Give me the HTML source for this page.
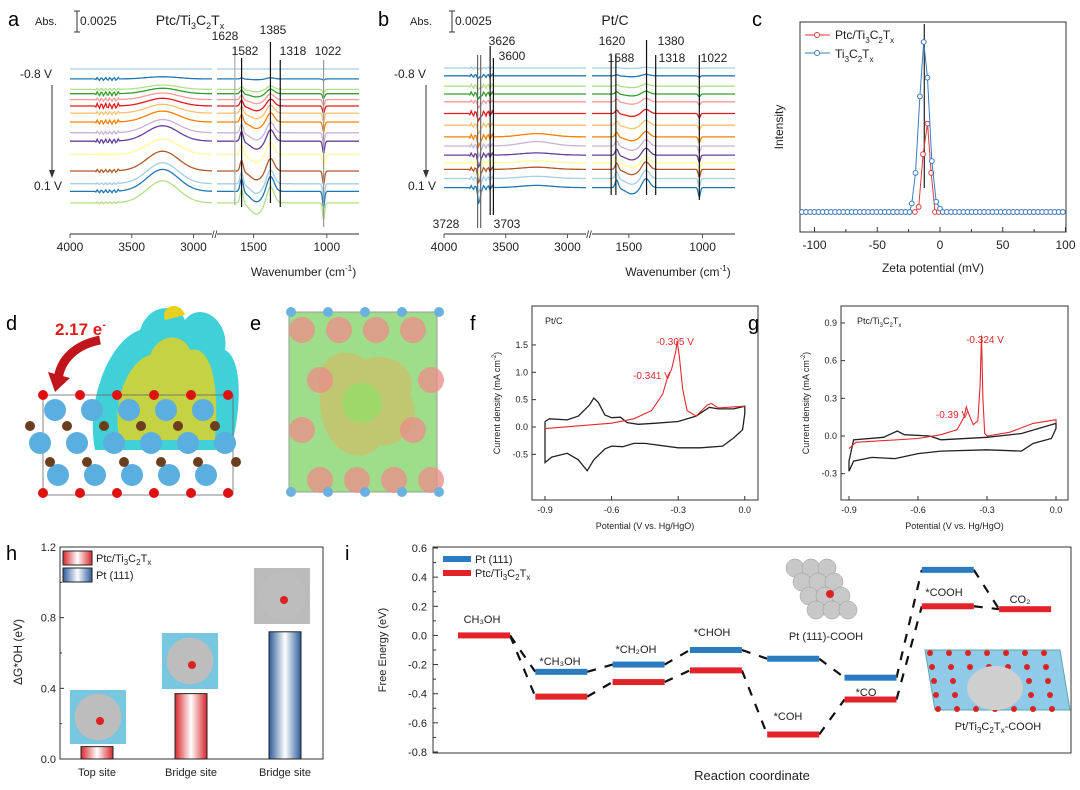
<!DOCTYPE html>
<html><head><meta charset="utf-8"><style>
body{margin:0;background:#fff}
svg{display:block;font-family:"Liberation Sans",Arial,sans-serif}
</style></head><body>
<svg id="s" width="1080" height="790" viewBox="0 0 1080 790" xmlns="http://www.w3.org/2000/svg">
<defs>
<linearGradient id="gr" x1="0" x2="1"><stop offset="0" stop-color="#d7262b"/><stop offset="0.5" stop-color="#fff"/><stop offset="1" stop-color="#d7262b"/></linearGradient>
<linearGradient id="gb" x1="0" x2="1"><stop offset="0" stop-color="#2b5c9a"/><stop offset="0.5" stop-color="#fff"/><stop offset="1" stop-color="#2b5c9a"/></linearGradient>
</defs>
<g font-size="20">
<text x="8" y="26">a</text>
<text x="378" y="26">b</text>
<text x="752" y="26">c</text>
<text x="6" y="330">d</text>
<text x="250" y="330">e</text>
<text x="470" y="330">f</text>
<text x="748" y="330">g</text>
<text x="6" y="560">h</text>
<text x="345" y="560">i</text>
</g>
<g id="pa"></g>
<g id="pb"></g>
<g id="pc"></g>
<g id="pd">
<path d="M95,450 C85,400 110,340 140,330 C150,300 180,305 185,320 C200,300 230,320 225,350 C245,360 240,420 230,450 Z" fill="#1fc8d0" opacity="0.85"/>
<path d="M120,440 C110,400 130,360 150,355 C160,330 185,335 190,350 C210,345 220,380 215,440 Z" fill="#e6d21e" opacity="0.8"/>
<path d="M165,320 C160,305 180,300 185,315 Z" fill="#e6d21e"/>
<path d="M100,340 C75,345 60,360 58,380" stroke="#c0161b" stroke-width="9" fill="none"/>
<path d="M48,372 L70,378 L55,392 Z" fill="#c0161b"/>
<text x="55" y="335" fill="#e01b1b" font-size="17" font-weight="bold">2.17 e<tspan dy="-7" font-size="11">-</tspan></text>
<rect x="43" y="395" width="190" height="100" fill="none" stroke="#666" stroke-width="0.8"/>
</g>
<g id="pe">
<rect x="289" y="312" width="148" height="180" fill="#9ede8a" stroke="#999"/>
<path d="M320,400 C310,350 350,345 365,360 C385,350 420,365 410,395 C425,420 400,450 380,445 C360,470 320,450 320,400Z" fill="#c9c06a" opacity="0.8"/>
<circle cx="362" cy="403" r="20" fill="#9fd86a"/>
</g>
<g id="pf"></g>
<g id="pg"></g>
<g id="ph"></g>
<g id="pi"></g>
</svg>
<script>
const NS="http://www.w3.org/2000/svg";
function mk(p,t,a,txt){const e=document.createElementNS(NS,t);for(const k in a)e.setAttribute(k,a[k]);if(txt!==undefined)e.textContent=txt;p.appendChild(e);return e;}
function line(p,x1,y1,x2,y2,c,w){return mk(p,'line',{x1,y1,x2,y2,stroke:c||'#000','stroke-width':w||1});}
function txt(p,x,y,s,sz,anchor,fill){return mk(p,'text',{x,y,'font-size':sz||11,'text-anchor':anchor||'middle',fill:fill||'#222'},s);}

/* ===== Panels a & b: FTIR spectra ===== */
const irColors=['#a6cee3','#1f78b4','#b2df8a','#33a02c','#fb9a99','#e31a1c','#fdbf6f','#ff7f00','#cab2d6','#6a3d9a','#ffff99','#b15928','#a6cee3','#1f78b4','#b2df8a'];
const irOffsetsA=[0,0.39,0.8,0.97,1.2,1.45,1.73,2.08,2.5,2.83,3.35,4.0,4.5,4.8,5.25];
const irBumpA=[0,0.1,0.2,0.25,0.3,0.35,0.4,0.5,0.6,0.7,0.7,0.9,0.95,1.0,1.0];
const irPeakA=[0,0.1,0.3,0.4,0.5,0.6,0.7,0.8,0.9,1.0,1.0,1.1,1.2,1.3,1.4];
const irOffsetsB=[0,0.3,0.7,1.0,1.3,1.75,2.2,2.65,3.0,3.35,3.65,3.9,4.25,4.6];
const irDipB=[0.1,0.2,0.3,0.4,0.5,0.6,0.7,0.8,0.9,1.0,1.0,1.1,1.2,1.3];
const irTicksL=[4000,3500,3000], irTicksR=[1500,1000];
function irPanel(g,o){
 const yS=o.y0, dy=o.dy;
 const xl=w=>o.lx0+(4000-w)*o.lk, xr=w=>o.rx0+(1750-w)*o.rk;
 o.offs.forEach((off,i)=>{
  let d='';
  for(let w=4000;w>=2850;w-=10){
   let y=yS+off*dy - o.bump[i]*22*Math.exp(-Math.pow((w-3250)/180,2));
   if(o.dip) y+= o.dip[i]*14*Math.exp(-Math.pow((w-3715)/12,2));
   y+= (w>3600&&w<3800? Math.sin(w*1.7)*o.noise[i%o.noise.length]:0);
   d+=(d?'L':'M')+xl(w).toFixed(1)+','+y.toFixed(1);
  }
  const p=mk(g,'path',{d,fill:'none',stroke:irColors[i],'stroke-width':1.3});
  
  
  let d2='';
  for(let w=1750;w>=780;w-=5){
   const a=o.pk?o.pk[i]:o.dip[i]*0.6;
   let y=yS+off*dy;
   y-= a*10*Math.exp(-Math.pow((w-1582)/15,2));
   y-= a*12*Math.exp(-Math.pow((w-1385)/35,2));
   y+= a*12*Math.exp(-Math.pow((w-1022)/10,2));
   y+= a*8*Math.exp(-Math.pow((w-1480)/60,2));
   d2+=(d2?'L':'M')+xr(w).toFixed(1)+','+y.toFixed(1);
  }
  const p2=mk(g,'path',{d:d2,fill:'none',stroke:irColors[i],'stroke-width':1.3});
  
  
 });
 const ay=o.axisY;
 line(g,o.lx0,ay,xl(2850),ay,'#555',1.2);line(g,xr(1750),ay,o.rx0+(1750-780)*o.rk,ay,'#555',1.2);
 txt(g,(xl(2850)+xr(1750))/2,ay+4,'//',10);
 irTicksL.forEach(w=>{line(g,xl(w),ay,xl(w),ay+4,'#555');txt(g,xl(w),ay+17,String(w),12);});
 irTicksR.forEach(w=>{line(g,xr(w),ay,xr(w),ay+4,'#555');txt(g,xr(w),ay+17,String(w),12);});
 const lab=txt(g,(o.lx0+o.rx0+320)/2,ay+42,'',12);
 lab.innerHTML='Wavenumber (cm<tspan dy="-5" font-size="8">-1</tspan><tspan dy="5">)</tspan>';
 o.vlines.forEach(v=>{const x=v.w>2000?xl(v.w):xr(v.w);line(g,x,v.y1,x,v.y2,v.c||'#111',1.2);});
 o.labels.forEach(l=>txt(g,l[0],l[1],l[2],12));
 txt(g,o.lx0-34,78,'-0.8 V',12,'middle');txt(g,o.lx0-22,190,'0.1 V',12,'middle');
 line(g,o.lx0-18,85,o.lx0-18,172,'#333',1);mk(g,'path',{d:`M${o.lx0-21},170 L${o.lx0-18},178 L${o.lx0-15},170Z`,fill:'#333'});
}
irPanel(document.getElementById('pa'),{y0:69,dy:25.5,lx0:70,lk:142/1150,rx0:217,rk:142/970,axisY:234,offs:irOffsetsA,bump:irBumpA,pk:irPeakA,noise:[0,1.5,1,2,1.5,2.5,1.5,2,1.5,2,1,1.5,1,1.5,1],
 vlines:[{w:1628,y1:48,y2:205,c:'#aaa'},{w:1582,y1:58,y2:207},{w:1385,y1:42,y2:203},{w:1318,y1:60,y2:207},{w:1022,y1:60,y2:227,c:'#999'}],
 labels:[[225,40,'1628'],[245,55,'1582'],[273,34,'1385'],[293,55,'1318'],[328,55,'1022']]});
irPanel(document.getElementById('pb'),{y0:68,dy:26,lx0:444,lk:142/1150,rx0:592,rk:143/970,axisY:234,offs:irOffsetsB,bump:[0,0,0,0,0,0,0,0.15,0.2,0.1,0.1,0.1,0.1,0.1],dip:irDipB,noise:[1,1.5,2,2,1.5,2.5,2,2.5,2,2,2,2,2,2],
 vlines:[{w:3728,y1:55,y2:228,c:'#666'},{w:3703,y1:55,y2:228,c:'#666'},{w:3626,y1:46,y2:215},{w:3600,y1:58,y2:215},{w:1620,y1:55,y2:195},{w:1588,y1:55,y2:195},{w:1380,y1:40,y2:195},{w:1318,y1:55,y2:195},{w:1022,y1:55,y2:200}],
 labels:[[502,45,'3626'],[512,60,'3600'],[446,228,'3728'],[507,228,'3703'],[612,45,'1620'],[621,62,'1588'],[671,45,'1380'],[672,62,'1318'],[714,62,'1022']]});
(function(){
 const a=document.getElementById('pa'),b=document.getElementById('pb');
 txt(a,46,25,'Abs.',11);line(a,77,11,77,32,'#333');line(a,74,11,80,11,'#333');line(a,74,32,80,32,'#333');txt(a,80,25,'0.0025',12,'start');
 const t=txt(a,190,25,'',14);t.innerHTML='Ptc/Ti<tspan dy="4" font-size="9">3</tspan><tspan dy="-4">C</tspan><tspan dy="4" font-size="9">2</tspan><tspan dy="-4">T</tspan><tspan dy="4" font-size="9">x</tspan>';
 txt(b,421,25,'Abs.',11);line(b,452,11,452,32,'#333');line(b,449,11,455,11,'#333');line(b,449,32,455,32,'#333');txt(b,455,25,'0.0025',12,'start');
 txt(b,615,25,'Pt/C',14);
})();

/* ===== Panel c: zeta potential ===== */
const zetaBlueX=[-22.5,-19.5,-16,-13,-10,-6.5,-3,0];
const zetaBlueY=[0.05,0.23,0.68,1.0,0.79,0.30,0.06,0.02];
const zetaRedX=[-20,-17,-13.5,-10,-7,-4,-1];
const zetaRedY=[0,0.03,0.34,0.52,0.23,0,0];
const zetaTicks=[-100,-50,0,50,100];
(function(){
 const g=document.getElementById('pc');
 const X=v=>940+v*1.255, Y=v=>212-v*170;
 mk(g,'rect',{x:800,y:22,width:266,height:210,fill:'none',stroke:'#333','stroke-width':1});
 zetaTicks.forEach(t=>{line(g,X(t),232,X(t),227,'#333');txt(g,X(t),249,String(t),12);});
 [-75,-25,25,75].forEach(t=>line(g,X(t),232,X(t),229,'#333'));
 txt(g,933,272,'Zeta potential (mV)',12);
 const it=txt(g,783,127,'Intensity',12);it.setAttribute('transform','rotate(-90 783 127)');
 line(g,X(-12.5),24,X(-12.5),188,'#333',1.3);
 function series(xs,ys,col,nm){
  const all=[];
  for(let v=-110;v<=100.1;v+=3.3){ if(v<xs[0]-1||v>xs[xs.length-1]+1) all.push([v,0]); }
  const pts=xs.map((x,i)=>[x,ys[i]]).concat(all).sort((a,b)=>a[0]-b[0]);
  const p=mk(g,'polyline',{points:pts.map(p=>X(p[0]).toFixed(1)+','+Y(p[1]).toFixed(1)).join(' '),fill:'none',stroke:col,'stroke-width':1});
  
  pts.forEach(q=>{const c=mk(g,'circle',{cx:X(q[0]),cy:Y(q[1]),r:2.4,fill:'#fff',stroke:col,'stroke-width':1});
   });
 }
 series(zetaRedX,zetaRedY,'#e0393e','ptc-series');
 series(zetaBlueX,zetaBlueY,'#3a7cc0','ti3c2tx-series');
 line(g,805,35,830,35,'#e0393e');mk(g,'circle',{cx:817,cy:35,r:2.5,fill:'#fff',stroke:'#e0393e'});
 line(g,805,53,830,53,'#3a7cc0');mk(g,'circle',{cx:817,cy:53,r:2.5,fill:'#fff',stroke:'#3a7cc0'});
 const l1=txt(g,835,39,'',12,'start');l1.innerHTML='Ptc/Ti<tspan dy="4" font-size="8">3</tspan><tspan dy="-4">C</tspan><tspan dy="4" font-size="8">2</tspan><tspan dy="-4">T</tspan><tspan dy="4" font-size="8">x</tspan>';
 const l2=txt(g,835,58,'',12,'start');l2.innerHTML='Ti<tspan dy="4" font-size="8">3</tspan><tspan dy="-4">C</tspan><tspan dy="4" font-size="8">2</tspan><tspan dy="-4">T</tspan><tspan dy="4" font-size="8">x</tspan>';
})();

/* ===== Panel d/e atoms ===== */
(function(){
 const d=document.getElementById('pd');
 [43,80,117,154,191,228].forEach(x=>{mk(d,'circle',{cx:x,cy:493,r:5,fill:'#d11'});});
 [58,95,132,169,206].forEach(x=>{mk(d,'circle',{cx:x,cy:475,r:11,fill:'#5aaee0'});});
 [50,87,124,161,198,236].forEach(x=>{mk(d,'circle',{cx:x,cy:462,r:5,fill:'#6b3f1e'});});
 [40,77,114,151,188,225].forEach(x=>{mk(d,'circle',{cx:x,cy:443,r:11,fill:'#5aaee0'});});
 [30,67,104,141,178,215].forEach(x=>{mk(d,'circle',{cx:x,cy:426,r:5,fill:'#6b3f1e'});});
 [55,92,129,166,203].forEach(x=>{mk(d,'circle',{cx:x,cy:410,r:11,fill:'#5aaee0'});});
 [43,80,117,154,191,228].forEach(x=>{mk(d,'circle',{cx:x,cy:395,r:5,fill:'#d11'});});
 const e=document.getElementById('pe');
 for(let r=0;r<4;r++)for(let c=0;c<4;c++){if((r==1||r==2)&&(c==1||c==2))continue;
  mk(e,'circle',{cx:302+c*37+(r%2?18:0),cy:330+r*50,r:13,fill:'#e8908a',opacity:0.8});}
 for(let c=0;c<5;c++){mk(e,'circle',{cx:291+c*37,cy:312,r:5,fill:'#6ab0e0'});mk(e,'circle',{cx:291+c*37,cy:492,r:5,fill:'#6ab0e0'});}
})();

/* ===== Panels f, g: CVs ===== */
const cvFblack=[[-0.9,0.1],[-0.88,0.15],[-0.8,0.13],[-0.75,0.2],[-0.7,0.4],[-0.68,0.53],[-0.66,0.45],[-0.63,0.22],[-0.6,0.17],[-0.56,0.18],[-0.53,0.08],[-0.48,0.05],[-0.4,0.07],[-0.3,0.1],[-0.22,0.2],[-0.16,0.36],[-0.12,0.33],[-0.05,0.33],[0,0.38],[0,0.25],[-0.01,-0.05],[-0.05,-0.2],[-0.1,-0.35],[-0.2,-0.38],[-0.3,-0.38],[-0.45,-0.3],[-0.5,-0.3],[-0.55,-0.36],[-0.6,-0.35],[-0.63,-0.4],[-0.68,-0.6],[-0.71,-0.8],[-0.75,-0.6],[-0.8,-0.48],[-0.87,-0.55],[-0.9,-0.65],[-0.9,0.1]];
const cvFred=[[-0.9,-0.03],[-0.6,0.07],[-0.5,0.15],[-0.42,0.3],[-0.37,0.6],[-0.345,0.95],[-0.33,1.05],[-0.31,1.4],[-0.305,1.57],[-0.295,1.3],[-0.28,0.7],[-0.26,0.3],[-0.22,0.2],[-0.17,0.4],[-0.15,0.43],[-0.12,0.35],[0,0.38]];
const cvGblack=[[-0.9,-0.2],[-0.88,-0.03],[-0.75,-0.01],[-0.69,0.04],[-0.66,0.01],[-0.55,0.0],[-0.5,-0.03],[-0.3,-0.01],[-0.15,0.02],[0,0.1],[0,0.06],[-0.02,-0.02],[-0.1,-0.06],[-0.15,-0.12],[-0.3,-0.11],[-0.5,-0.12],[-0.6,-0.14],[-0.7,-0.18],[-0.8,-0.17],[-0.88,-0.2],[-0.9,-0.28],[-0.9,-0.2]];
const cvGred=[[-0.9,-0.1],[-0.87,-0.05],[-0.6,-0.02],[-0.5,0.01],[-0.43,0.05],[-0.4,0.15],[-0.39,0.23],[-0.38,0.18],[-0.36,0.09],[-0.34,0.12],[-0.33,0.4],[-0.324,0.8],[-0.318,0.3],[-0.31,0.02],[-0.3,0.0],[-0.2,0.03],[-0.1,0.1],[0,0.13],[0,0.1]];
const cvXticks=[-0.9,-0.6,-0.3,0.0];
const cvFyticks=[1.5,1.0,0.5,0.0,-0.5];
const cvGyticks=[0.9,0.6,0.3,0.0,-0.3];
function cvPanel(g,o){
 const X=v=>o.x0+(v+0.9)*o.kx, Y=v=>o.y0-v*o.ky;
 mk(g,'rect',{x:o.bx,y:o.by,width:o.bw,height:o.bh,fill:'none',stroke:'#333','stroke-width':1});
 cvXticks.forEach(t=>{line(g,X(t),o.by+o.bh,X(t),o.by+o.bh-4,'#333');txt(g,X(t),o.by+o.bh+13,t.toFixed(1),9);});
 o.yt.forEach(t=>{line(g,o.bx,Y(t),o.bx+4,Y(t),'#333');txt(g,o.bx-4,Y(t)+3,t.toFixed(1),9,'end');});
 txt(g,o.bx+o.bw/2,o.by+o.bh+29,'Potential (V vs. Hg/HgO)',9);
 const cx=o.bx-32, cy=o.by+o.bh/2;
 const yl=txt(g,cx,cy,'',9);yl.setAttribute('transform',`rotate(-90 ${cx} ${cy})`);
 yl.innerHTML='Current density (mA cm<tspan dy="-4" font-size="6">-2</tspan><tspan dy="4">)</tspan>';
 const pb=mk(g,'polyline',{points:o.black.map(p=>X(p[0]).toFixed(1)+','+Y(p[1]).toFixed(1)).join(' '),fill:'none',stroke:'#222','stroke-width':1.3});
 
 const pr=mk(g,'polyline',{points:o.red.map(p=>X(p[0]).toFixed(1)+','+Y(p[1]).toFixed(1)).join(' '),fill:'none',stroke:'#e5282d','stroke-width':1.1});
 
 o.labels.forEach(l=>txt(g,l[0],l[1],l[2],10,'middle','#e5282d'));
}
cvPanel(document.getElementById('pf'),{x0:545,kx:222,y0:427,ky:54.7,bx:532,by:306,bw:226,bh:194,yt:cvFyticks,black:cvFblack,red:cvFred,labels:[[675,345,'-0.305 V'],[652,379,'-0.341 V']]});
(function(){txt(document.getElementById('pf'),545,324,'Pt/C',9,'start');})();
cvPanel(document.getElementById('pg'),{x0:849,kx:230,y0:436,ky:125.6,bx:841,by:306,bw:227,bh:194,yt:cvGyticks,black:cvGblack,red:cvGred,labels:[[985,343,'-0.324 V'],[952,418,'-0.39 V']]});
(function(){const t=txt(document.getElementById('pg'),857,324,'',9,'start');t.innerHTML='Ptc/Ti<tspan dy="3" font-size="6">3</tspan><tspan dy="-3">C</tspan><tspan dy="3" font-size="6">2</tspan><tspan dy="-3">T</tspan><tspan dy="3" font-size="6">x</tspan>';})();

/* ===== Panel h: bar chart ===== */
const hCats=['Top site','Bridge site','Bridge site'];
const hVals=[0.07,0.37,0.72];
const hFill=['url(#gr)','url(#gr)','url(#gb)'];
const hYticks=[0.0,0.4,0.8,1.2];
(function(){
 const g=document.getElementById('ph');
 const bx=60,by=547,bw=263,bh=212;const Y=v=>759-v*(212/1.2);
 mk(g,'rect',{x:bx,y:by,width:bw,height:bh,fill:'none',stroke:'#333'});
 hYticks.forEach(t=>{line(g,bx,Y(t),bx+4,Y(t),'#333');txt(g,bx-4,Y(t)+4,t.toFixed(1),11,'end');});
 [0.2,0.6,1.0].forEach(t=>line(g,bx,Y(t),bx+2,Y(t),'#333'));
 const yl=txt(g,22,652,'ΔG*OH (eV)',12);yl.setAttribute('transform','rotate(-90 22 652)');
 const centers=[97,191,285];
 hVals.forEach((v,i)=>{
  const r=mk(g,'rect',{x:centers[i]-16,y:Y(v),width:32,height:Y(0)-Y(v),fill:hFill[i],stroke:'#222','stroke-width':1});
  
  txt(g,centers[i],776,hCats[i],11);
 });
 mk(g,'rect',{x:63,y:551,width:29,height:14,fill:'url(#gr)',stroke:'#222'});
 mk(g,'rect',{x:63,y:568,width:29,height:14,fill:'url(#gb)',stroke:'#222'});
 const l1=txt(g,96,562,'',11,'start');l1.innerHTML='Ptc/Ti<tspan dy="3" font-size="8">3</tspan><tspan dy="-3">C</tspan><tspan dy="3" font-size="8">2</tspan><tspan dy="-3">T</tspan><tspan dy="3" font-size="8">x</tspan>';
 txt(g,96,579,'Pt (111)',11,'start');
 [[70,690,56,54,'#78c6e0'],[162,633,56,56,'#78c6e0'],[254,568,56,56,'#bbb']].forEach(a=>{
  mk(g,'rect',{x:a[0],y:a[1],width:a[2],height:a[3],fill:a[4]});
  mk(g,'circle',{cx:a[0]+a[2]/2,cy:a[1]+a[3]/2,r:a[2]/2.4,fill:'#bdbdbd'});
  mk(g,'circle',{cx:a[0]+a[2]/2+2,cy:a[1]+a[3]/2+4,r:4,fill:'#d22'});
 });
})();

/* ===== Panel i: free energy diagram ===== */
const iStepsPt=[null,-0.25,-0.2,-0.1,-0.16,-0.29,0.45,null];
const iStepsPtc=[0.0,-0.42,-0.32,-0.24,-0.68,-0.44,0.2,0.18];
const iLabels=['CH₃OH','*CH₃OH','*CH₂OH','*CHOH','*COH','*CO','*COOH','CO₂'];
const iYticks=[0.6,0.4,0.2,0.0,-0.2,-0.4,-0.6,-0.8];
(function(){
 const g=document.getElementById('pi');
 const bx=433,by=547,bw=638,bh=206;const Y=v=>548+(0.6-v)*145.7;
 const X0=i=>458+i*77.3, W=52;
 mk(g,'rect',{x:bx,y:by,width:bw,height:bh,fill:'none',stroke:'#333'});
 iYticks.forEach(t=>{line(g,bx,Y(t),bx+5,Y(t),'#333');txt(g,bx-6,Y(t)+4,t.toFixed(1),11,'end');});
 [0.5,0.3,0.1,-0.1,-0.3,-0.5,-0.7].forEach(t=>line(g,bx,Y(t),bx+3,Y(t),'#333'));
 const yl=txt(g,386,650,'Free Energy (eV)',11);yl.setAttribute('transform','rotate(-90 386 650)');
 txt(g,752,780,'Reaction coordinate',13);
 function conn(arr){
  for(let i=0;i<arr.length-1;i++){
   let j=i+1; if(arr[i]===null||arr[j]===null) continue;
   mk(g,'line',{x1:X0(i)+W,y1:Y(arr[i]),x2:X0(j),y2:Y(arr[j]),stroke:'#111','stroke-width':2.2,'stroke-dasharray':'9,9'});
  }
 }
 conn([iStepsPtc[0],iStepsPt[1]]);
 conn(iStepsPt);conn(iStepsPtc);
 mk(g,'line',{x1:X0(6)+W,y1:Y(iStepsPt[6]),x2:X0(7),y2:Y(iStepsPtc[7]),stroke:'#111','stroke-width':2.2,'stroke-dasharray':'9,9'});
 iStepsPtc.forEach((v,i)=>{if(v===null)return;const r=mk(g,'rect',{x:X0(i),y:Y(v)-3,width:W,height:6,fill:'#e3232a'});
  });
 iStepsPt.forEach((v,i)=>{if(v===null)return;const r=mk(g,'rect',{x:X0(i),y:Y(v)-3,width:W,height:6,fill:'#2a7bbf'});
  });
 const lp=[[482,623],[560,665],[636,653],[712,636],[788,720],[866,696],[944,596],[1020,603]];
 iLabels.forEach((s,i)=>txt(g,lp[i][0],lp[i][1],s,11));
 mk(g,'rect',{x:443,y:556,width:28,height:6,fill:'#2a7bbf'});mk(g,'rect',{x:443,y:570,width:28,height:6,fill:'#e3232a'});
 txt(g,475,563,'Pt (111)',11,'start');
 const l2=txt(g,475,577,'',11,'start');l2.innerHTML='Ptc/Ti<tspan dy="3" font-size="8">3</tspan><tspan dy="-3">C</tspan><tspan dy="3" font-size="8">2</tspan><tspan dy="-3">T</tspan><tspan dy="3" font-size="8">x</tspan>';
 for(let r=0;r<4;r++)for(let c=0;c<3;c++)mk(g,'circle',{cx:795+c*16+r*7,cy:568+r*14,r:9,fill:'#c8c8c8',stroke:'#999','stroke-width':0.5});
 mk(g,'circle',{cx:830,cy:594,r:4,fill:'#d22'});
 txt(g,826,640,'Pt (111)-COOH',11);
 mk(g,'path',{d:'M925,650 L1060,650 L1070,710 L935,710 Z',fill:'#8fcbe8',stroke:'#5aa'});
 for(let r=0;r<5;r++)for(let c=0;c<7;c++)mk(g,'circle',{cx:930+c*19+r*2,cy:653+r*14,r:3,fill:'#d22'});
 mk(g,'ellipse',{cx:995,cy:688,rx:28,ry:22,fill:'#cfcfcf'});
 const l3=txt(g,998,730,'',11);l3.innerHTML='Pt/Ti<tspan dy="3" font-size="8">3</tspan><tspan dy="-3">C</tspan><tspan dy="3" font-size="8">2</tspan><tspan dy="-3">T</tspan><tspan dy="3" font-size="8">x</tspan><tspan dy="-3">-COOH</tspan>';
})();
</script>
</body></html>
